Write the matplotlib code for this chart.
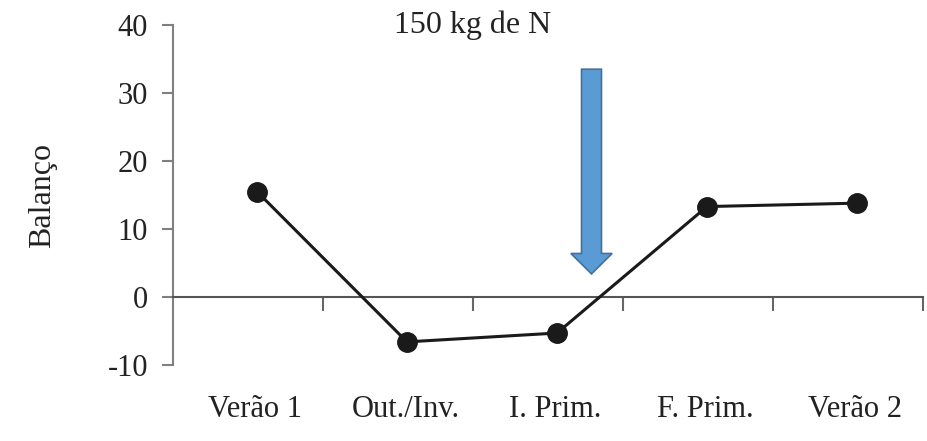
import matplotlib
matplotlib.use("Agg")
import matplotlib.pyplot as plt
from matplotlib.patches import FancyArrow

categories = ["Verão 1", "Out./Inv.", "I. Prim.", "F. Prim.", "Verão 2"]
balanco = [15.5, -6.6, -5.3, 13.3, 13.8]
y_ticks = [-10, 0, 10, 20, 30, 40]
dose_label = "150 kg de N"
dose_pos = 2.29

plt.rcParams["font.family"] = ["Liberation Serif", "DejaVu Serif"]
plt.rcParams["axes.unicode_minus"] = False

fig = plt.figure(figsize=(9.28, 4.41), dpi=100)
ax = fig.add_axes([173 / 928, 1 - 365 / 441, 750 / 928, 340 / 441])

# points sit a little right of the category centres in the original
x = [i + 0.06 for i in range(len(categories))]
ax.plot(x, balanco, color="#1a1a1a", linewidth=2.2, marker="o",
        markersize=14, markerfacecolor="#1a1a1a", markeredgecolor="#1a1a1a", zorder=3)

ax.set_xlim(-0.5, len(categories) - 0.5)
ax.set_ylim(-10, 40)
ax.set_yticks(y_ticks)
ax.set_yticklabels([str(v) for v in y_ticks], fontsize=22, color="#222222")
ax.tick_params(axis="y", direction="out", length=8, width=1.5, color="#808080", pad=10)

# category axis crosses at zero, ticks between categories
ax.spines["bottom"].set_position(("data", 0))
ax.spines["bottom"].set_color("#555555")
ax.spines["bottom"].set_linewidth(1.5)
ax.spines["left"].set_color("#808080")
ax.spines["left"].set_linewidth(1.5)
ax.spines["top"].set_visible(False)
ax.spines["right"].set_visible(False)
ax.set_xticks([i + 0.5 for i in range(len(categories))])
ax.set_xticklabels([])
ax.tick_params(axis="x", direction="out", length=10, width=1.5, color="#666666")

for i, lab in enumerate(categories):
    ax.text(i + 0.05, -0.13, lab, transform=ax.get_xaxis_transform(),
            ha="center", va="center", fontsize=22, color="#222222")

ax.set_ylabel("Balanço", fontsize=23, color="#222222")
ax.yaxis.set_label_coords(-0.155, 0.5)

ax.text(1.5, 40.0, dose_label, ha="center", va="center", fontsize=23, color="#222222")

arrow = FancyArrow(dose_pos, 33.5, 0, -30.1, width=0.133, head_width=0.275,
                   head_length=3.0, length_includes_head=True,
                   facecolor="#5b9bd5", edgecolor="#41719c", linewidth=1.2, zorder=4)
ax.add_patch(arrow)

fig.savefig("out.png", dpi=100)
